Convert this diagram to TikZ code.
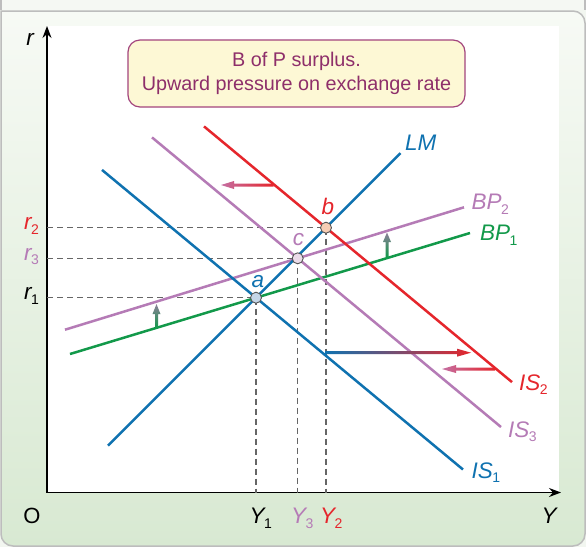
\documentclass[tikz,border=0pt]{standalone}
\usepackage{fontspec}
\setmainfont{Liberation Sans}
\usetikzlibrary{arrows.meta}
\definecolor{lmblue}{HTML}{0F72B0}
\definecolor{isred}{HTML}{E5262C}
\definecolor{purp}{HTML}{B57BB6}
\definecolor{bpgreen}{HTML}{12994A}
\definecolor{dashgray}{HTML}{666666}
\definecolor{ptline}{HTML}{555555}
\definecolor{ptA}{HTML}{C5D6E8}
\definecolor{ptB}{HTML}{F7CDB4}
\definecolor{ptC}{HTML}{EBDBE9}
\definecolor{boxfill}{HTML}{FDF8D5}
\definecolor{boxline}{HTML}{A3457D}
\definecolor{boxtext}{HTML}{8E2F6A}
\definecolor{frame}{HTML}{BDBDBD}
\definecolor{arrpink}{HTML}{C56FA2}
\definecolor{arrgray}{HTML}{8C7F98}
\definecolor{bgbase}{HTML}{F2F6F0}
\definecolor{bgstrip}{HTML}{F5F8F3}
\definecolor{bgtop}{HTML}{F7FAF5}
\definecolor{bgbot}{HTML}{D8E9D2}
\definecolor{arrmid}{HTML}{7D506E}
\newcommand\sbx[1]{\kern-0.5pt\raisebox{-0.22em}{\fontsize{14}{14}\selectfont\upshape #1}}
\begin{document}
\begin{tikzpicture}[x=1pt,y=-1pt,
  curve/.style={line width=2.5pt},
  guide/.style={draw=dashgray,line width=1.4pt,dash pattern=on 6pt off 4pt},
  pt/.style={circle,draw=ptline,line width=0.9pt,minimum size=11pt,inner sep=0pt},
  lab/.style={font=\fontsize{22.5}{24}\selectfont\itshape,inner sep=0pt},
  axlab/.style={font=\fontsize{22}{24}\selectfont,inner sep=0pt},
  box/.style={draw=boxline,fill=boxfill,line width=1.2pt,rounded corners=12pt,
    minimum width=337pt,minimum height=67pt,align=center,text=boxtext,
    font=\fontsize{19.8}{23.5}\selectfont},
  axis/.style={line width=1.3pt,-{Stealth[length=12pt,width=9pt]}}
]
\useasboundingbox (0,0) rectangle (586,547);
% background
\fill[bgbase] (0,0) rectangle (586,547);
\fill[bgstrip] (1,0) rectangle (585,10);
\draw[frame,line width=1.5pt] (1,0) -- (1,10) (585,0) -- (585,10);
\shade[top color=bgtop,bottom color=bgbot,draw=frame,line width=1.5pt,rounded corners=12pt]
  (1,11) -- (1,546) -- (585,546) -- (585,11) [sharp corners] -- cycle;
\fill[white] (47,26) rectangle (559,492.5);

% named coordinates
\coordinate (O) at (47,492.5);
\coordinate (xend) at (561,492.5);
\coordinate (yend) at (47,26);
\coordinate (LMs) at (108,445.7);
\coordinate (LMe) at (400.5,153.2);
\coordinate (IS1s) at (102,169.9);
\coordinate (IS1e) at (463,469.5);
\coordinate (IS2s) at (204,126.4);
\coordinate (IS2e) at (512,382.1);
\coordinate (IS3s) at (152,137.4);
\coordinate (IS3e) at (501,427);
\coordinate (BP1s) at (70,354);
\coordinate (BP1e) at (470,233);
\coordinate (BP2s) at (65,329.7);
\coordinate (BP2e) at (464,207.3);

% box
\node[box] (note) at (296.5,73.5) {B of P surplus.\\Upward pressure on exchange rate};

% axes
\draw[axis] (O) -- (yend);
\draw[axis] (O) -- (xend);

% equilibrium points (positions)
\coordinate (pa) at (256,297.7);
\coordinate (pc) at (297.7,258.3);
\coordinate (pb) at (326,227.7);

% dashed guides
\draw[guide] (47,297.7) -- (pa) -- (256,492.5);
\draw[guide] (47,258.3) -- (pc) -- (297.7,492.5);
\draw[guide] (47,227.7) -- (pb) -- (326,492.5);

% curves
\draw[curve,bpgreen] (BP1s) -- (BP1e);
\draw[curve,purp] (BP2s) -- (BP2e);
\draw[curve,purp] (IS3s) -- (IS3e);
\draw[curve,lmblue] (IS1s) -- (IS1e);
\draw[curve,isred] (IS2s) -- (IS2e);
\draw[curve,lmblue] (LMs) -- (LMe);

% shaded arrows
\shade[left color=arrpink,right color=isred]
  (273.5,183.5) -- (234,183.5) -- (234,181) -- (221,185) -- (234,189) -- (234,186.5) -- (273.5,186.5) -- cycle;
\shade[left color=arrpink,right color=isred]
  (495,367.5) -- (456,367.5) -- (456,365) -- (442,369) -- (456,373) -- (456,370.5) -- (495,370.5) -- cycle;
\shade[left color=lmblue,middle color=arrmid,right color=isred]
  (325,351.2) -- (457,351.2) -- (457,348.7) -- (471,352.7) -- (457,356.7) -- (457,354.2) -- (325,354.2) -- cycle;
\shade[bottom color=bpgreen,top color=arrgray]
  (155,328) -- (155,314) -- (152.5,314) -- (156.5,304) -- (160.5,314) -- (158,314) -- (158,328) -- cycle;
\shade[bottom color=bpgreen,top color=arrgray]
  (385.5,257) -- (385.5,242) -- (383,242) -- (387,232.5) -- (391,242) -- (388.5,242) -- (388.5,257) -- cycle;

% points
\node[pt,fill=ptA] (a) at (pa) {};
\node[pt,fill=ptC] (c) at (pc) {};
\node[pt,fill=ptB] (b) at (pb) {};
\node[lab,text=lmblue,anchor=base] (la) at (258,287.3) {a};
\node[lab,text=purp,anchor=base] (lc) at (298.5,245.7) {c};
\node[lab,text=isred,anchor=base] (lb) at (328,214.3) {b};

% curve labels
\node[lab,text=lmblue,anchor=base west] (lLM) at (405,150) {LM};
\node[lab,text=purp,anchor=base west] (lBP2) at (471.5,209.5) {BP\sbx{2}};
\node[lab,text=bpgreen,anchor=base west] (lBP1) at (480,240.5) {BP\sbx{1}};
\node[lab,text=isred,anchor=base west] (lIS2) at (519,390) {IS\sbx{2}};
\node[lab,text=purp,anchor=base west] (lIS3) at (508,437) {IS\sbx{3}};
\node[lab,text=lmblue,anchor=base west] (lIS1) at (471.5,478) {IS\sbx{1}};

% axis labels
\node[lab,anchor=base] (lr) at (30,45) {r};
\node[axlab,anchor=base] (lO) at (32,523.3) {O};
\node[lab,anchor=base] (lY) at (549,523.3) {Y};
\node[lab,text=isred,anchor=base east] (lr2) at (39,229.5) {r\sbx{2}};
\node[lab,text=purp,anchor=base east] (lr3) at (39,260) {r\sbx{3}};
\node[lab,anchor=base east] (lr1) at (39,299.5) {r\sbx{1}};
\node[lab,anchor=base west] (lY1) at (249.5,523.3) {Y\sbx{1}};
\node[lab,text=purp,anchor=base west] (lY3) at (291,523.3) {Y\sbx{3}};
\node[lab,text=isred,anchor=base west] (lY2) at (320,523.3) {Y\sbx{2}};
\end{tikzpicture}
\end{document}
